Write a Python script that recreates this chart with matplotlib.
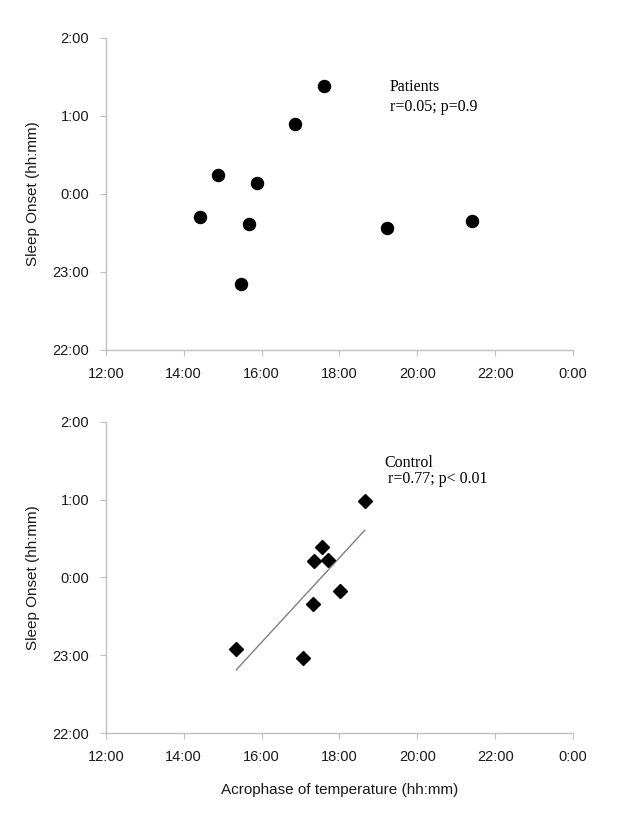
import numpy as np
import matplotlib
matplotlib.use('Agg')
import matplotlib.pyplot as plt

# decimal hours; sleep onset after midnight stored as 24+
patients_acro = [14.43, 14.87, 15.46, 15.67, 15.89, 16.86, 17.61, 19.21, 21.40]
patients_onset = [23.70, 24.24, 22.84, 23.62, 24.145, 24.90, 25.39, 23.57, 23.66]

control_acro = [15.35, 17.07, 17.32, 17.35, 17.55, 17.71, 18.02, 18.65]
control_onset = [23.08, 22.96, 23.66, 24.21, 24.39, 24.22, 23.82, 24.98]

x_ticks = [12, 14, 16, 18, 20, 22, 24]
y_ticks = [22, 23, 24, 25, 26]

GRAY = '#bfbfbf'
TICK_FONT = 'Liberation Sans'
SERIF = 'Liberation Serif'


def fmt(h):
    return '{}:00'.format(int(h) % 24)


def style_axes(ax):
    ax.set_xlim(12, 24)
    ax.set_ylim(22, 26)
    ax.set_xticks(x_ticks)
    ax.set_xticklabels([fmt(h) for h in x_ticks])
    ax.set_yticks(y_ticks)
    ax.set_yticklabels([fmt(h) for h in y_ticks])
    for s in ['top', 'right']:
        ax.spines[s].set_visible(False)
    for s in ['left', 'bottom']:
        ax.spines[s].set_color(GRAY)
        ax.spines[s].set_linewidth(1.0)
    ax.tick_params(direction='out', length=4, color=GRAY, labelcolor='#1a1a1a',
                   labelsize=10.5, pad=8)
    for lab in ax.get_xticklabels() + ax.get_yticklabels():
        lab.set_fontfamily(TICK_FONT)
    ax.set_ylabel('Sleep Onset (hh:mm)', fontsize=11, family=TICK_FONT,
                  color='#1a1a1a', labelpad=9)


fig = plt.figure(figsize=(6.3, 8.13), dpi=100)
ax1 = fig.add_axes([0.168, 0.5695, 0.7415, 0.3838])
ax2 = fig.add_axes([0.168, 0.0984, 0.7415, 0.3826])

ax1.scatter(patients_acro, patients_onset, s=75, color='black', zorder=3)
style_axes(ax1)
ax1.text(19.3, 25.37, 'Patients', family=SERIF, fontsize=11.5, va='center')
ax1.text(19.3, 25.12, 'r=0.05; p=0.9', family=SERIF, fontsize=11.5, va='center')

ax2.plot(control_acro, control_onset, 'D', color='black', markersize=7, zorder=3)
slope, icpt = np.polyfit(control_acro, control_onset, 1)
xs = np.array([min(control_acro), max(control_acro)])
ax2.plot(xs, slope * xs + icpt, color='#808080', linewidth=1.0)
style_axes(ax2)
ax2.text(19.15, 25.47, 'Control', family=SERIF, fontsize=11.5, va='center')
ax2.text(19.25, 25.27, 'r=0.77; p< 0.01', family=SERIF, fontsize=11.5, va='center')
ax2.set_xlabel('Acrophase of temperature (hh:mm)', fontsize=11, family=TICK_FONT,
               color='#1a1a1a', labelpad=14)

fig.savefig('out.png', dpi=100)
